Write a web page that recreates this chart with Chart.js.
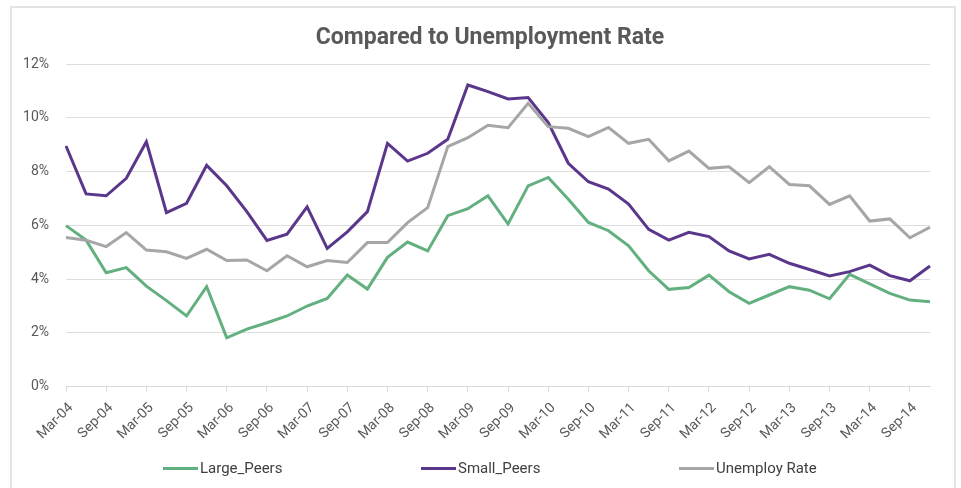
<!DOCTYPE html>
<html>
<head>
<meta charset="utf-8">
<script src="https://cdn.jsdelivr.net/npm/chart.js@4.4.1/dist/chart.umd.min.js"></script>
<style>
  html, body { margin: 0; padding: 0; background: #ffffff; }
  body { width: 961px; height: 488px; position: relative; overflow: hidden; font-family: Roboto, "Open Sans", sans-serif; }
  #frame { position: absolute; left: 10px; top: 6px; width: 942px; height: 520px; border: 2px solid #e4e4e4; box-sizing: content-box; }
  #wrap { position: absolute; left: 0; top: 0; width: 961px; height: 488px; }
  #title { position: absolute; left: 290px; width: 400px; top: 23px; text-align: center; font-size: 23px; font-weight: bold; color: #595959; line-height: 28px; white-space: nowrap; }
  .leg { position: absolute; top: 458px; height: 20px; display: flex; align-items: center; font-size: 15px; color: #404040; white-space: nowrap; }
  .leg span.ln { display: inline-block; width: 35px; height: 3px; margin-right: 2px; }
</style>
</head>
<body>
<div id="frame"></div>
<div id="wrap"><canvas id="c" width="961" height="488"></canvas></div>
<div id="title"></div>
<div class="leg" style="left:163px"><span class="ln" id="l0"></span><span id="t0"></span></div>
<div class="leg" style="left:421px"><span class="ln" id="l1"></span><span id="t1"></span></div>
<div class="leg" style="left:679px"><span class="ln" id="l2"></span><span id="t2"></span></div>
<script>
const quarterLabels = [
  "Mar-04","Jun-04","Sep-04","Dec-04","Mar-05","Jun-05","Sep-05","Dec-05",
  "Mar-06","Jun-06","Sep-06","Dec-06","Mar-07","Jun-07","Sep-07","Dec-07",
  "Mar-08","Jun-08","Sep-08","Dec-08","Mar-09","Jun-09","Sep-09","Dec-09",
  "Mar-10","Jun-10","Sep-10","Dec-10","Mar-11","Jun-11","Sep-11","Dec-11",
  "Mar-12","Jun-12","Sep-12","Dec-12","Mar-13","Jun-13","Sep-13","Dec-13",
  "Mar-14","Jun-14","Sep-14","Dec-14"
];
const largePeers = [5.99, 5.45, 4.24, 4.43, 3.74, 3.20, 2.63, 3.72, 1.82, 2.14, 2.38, 2.63, 3.00, 3.28,
  4.15, 3.63, 4.81, 5.38, 5.05, 6.36, 6.62, 7.10, 6.05, 7.47, 7.78, 6.97, 6.11, 5.80, 5.24, 4.31,
  3.62, 3.69, 4.15, 3.53, 3.10, 3.41, 3.72, 3.59, 3.27, 4.18, 3.82, 3.47, 3.22, 3.16];
const smallPeers = [8.95, 7.17, 7.10, 7.75, 9.11, 6.47, 6.82, 8.23, 7.47, 6.51, 5.44, 5.67, 6.69, 5.14,
  5.76, 6.51, 9.05, 8.39, 8.68, 9.20, 11.22, 10.97, 10.70, 10.75, 9.82, 8.31, 7.62, 7.35, 6.79, 5.85,
  5.45, 5.74, 5.58, 5.05, 4.75, 4.92, 4.59, 4.36, 4.12, 4.28, 4.52, 4.13, 3.94, 4.49];
const unemployRate = [5.55, 5.45, 5.21, 5.73, 5.08, 5.02, 4.77, 5.11, 4.69, 4.71, 4.31, 4.87, 4.46, 4.69,
  4.62, 5.36, 5.36, 6.10, 6.66, 8.93, 9.26, 9.72, 9.63, 10.54, 9.67, 9.61, 9.30, 9.64, 9.05, 9.20,
  8.40, 8.76, 8.12, 8.18, 7.59, 8.18, 7.52, 7.47, 6.78, 7.10, 6.16, 6.24, 5.54, 5.93];
const seriesNames = ["Large_Peers", "Small_Peers", "Unemploy Rate"];
const seriesColors = ["#62b07f", "#5b378c", "#a6a6a6"];
const yTicks = [0, 2, 4, 6, 8, 10, 12];
const chartTitle = "Compared to Unemployment Rate";

const seriesValues = [largePeers, smallPeers, unemployRate];
const datasets = seriesValues.map((vals, i) => ({
  label: seriesNames[i],
  data: vals,
  borderColor: seriesColors[i],
  backgroundColor: seriesColors[i],
  borderWidth: 3,
  pointRadius: 0,
  tension: 0,
  fill: false,
  order: 3 - i
}));

document.getElementById('title').textContent = chartTitle;
seriesNames.forEach((n, i) => {
  document.getElementById('t' + i).textContent = n;
  document.getElementById('l' + i).style.background = seriesColors[i];
});

const fam = "Roboto, 'Open Sans', sans-serif";

new Chart(document.getElementById('c'), {
  type: 'line',
  data: { labels: quarterLabels, datasets },
  options: {
    responsive: false,
    animation: false,
    devicePixelRatio: 1,
    layout: { padding: { top: 64, left: 0, right: 31, bottom: 41 } },
    plugins: {
      legend: { display: false },
      tooltip: { enabled: false },
      title: { display: false }
    },
    scales: {
      x: {
        type: 'category',
        offset: false,
        afterFit: (s) => { s.height = 60.3; },
        grid: { drawOnChartArea: false, drawTicks: true, tickLength: 5, color: '#d9d9d9' },
        border: { display: true, color: '#d9d9d9' },
        ticks: {
          autoSkip: false,
          minRotation: 45,
          maxRotation: 45,
          padding: 8,
          labelOffset: 5,
          color: '#595959',
          font: { family: fam, size: 14 },
          callback: function (v, i) { return i % 2 === 0 ? quarterLabels[i] : null; }
        }
      },
      y: {
        min: yTicks[0],
        max: yTicks[yTicks.length - 1],
        afterFit: (s) => { s.width = 66; },
        afterBuildTicks: (s) => { s.ticks = yTicks.map(v => ({ value: v })); },
        grid: { color: '#dedede', drawTicks: false, lineWidth: 1 },
        border: { display: false },
        ticks: {
          padding: 17,
          color: '#595959',
          font: { family: fam, size: 14 },
          callback: (v) => v + '%'
        }
      }
    }
  }
});
</script>
</body>
</html>
